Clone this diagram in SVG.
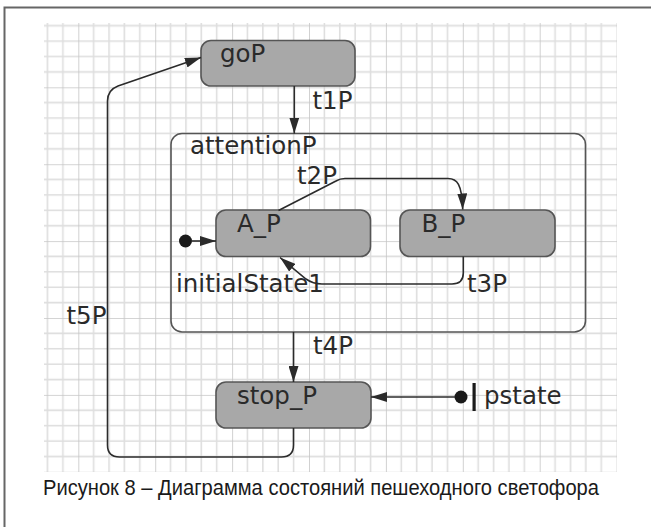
<svg xmlns="http://www.w3.org/2000/svg" width="651" height="527" viewBox="0 0 651 527">
  <defs>
    <!-- drawing-area grid: fine cells with a heavier line every fifth cell -->
    <pattern id="grid" patternUnits="userSpaceOnUse" x="1.4" y="10.4" width="76.9" height="76.9">
      <path d="M15.38,0V76.9M30.76,0V76.9M46.14,0V76.9M61.52,0V76.9M0,15.38H76.9M0,30.76H76.9M0,46.14H76.9M0,61.52H76.9" stroke="#dedede" stroke-width="1.6" fill="none"/>
      <path d="M0,0V76.9M0,0H76.9" stroke="#c6c6c6" stroke-width="1.6" fill="none"/>
    </pattern>
    <marker id="arrow" viewBox="0 0 16 10" refX="16" refY="5" markerWidth="16" markerHeight="10" markerUnits="userSpaceOnUse" orient="auto">
      <path d="M0,0 L16,5 L0,10 Z" fill="#2b2b2b"/>
    </marker>
  </defs>
  <style>
    .state { fill: #a8a8a8; stroke: #555; stroke-width: 1.6; }
    .region { fill: none; stroke: #555; stroke-width: 1.6; }
    .lbl { font-family: "DejaVu Sans", "Liberation Sans", sans-serif; font-size: 24.5px; fill: #2a2a2a; }
    .edge { fill: none; stroke: #2b2b2b; stroke-width: 1.6; marker-end: url(#arrow); }
    .cap { font-family: "Liberation Sans", "DejaVu Sans", sans-serif; font-size: 22px; fill: #1a1a1a; }
  </style>

  <rect width="651" height="527" fill="#fff"/>
  <!-- page frame -->
  <path d="M4.5,527V7.5H651" fill="none" stroke="#666" stroke-width="2"/>

  <!-- grid -->
  <rect x="44" y="23" width="573" height="449" fill="url(#grid)"/>

  <!-- composite state -->
  <g id="attentionP">
    <rect class="region" x="171" y="133.5" width="414.5" height="198.5" rx="11"/>
    <text class="lbl" x="190" y="153.5">attentionP</text>
  </g>

  <g id="goP">
    <rect class="state" x="201" y="40.5" width="154" height="45.5" rx="10"/>
    <text class="lbl" x="220" y="62">goP</text>
  </g>

  <g id="A_P">
    <rect class="state" x="216" y="210" width="154.5" height="46.5" rx="10"/>
    <text class="lbl" x="237" y="231.5">A_P</text>
  </g>

  <g id="B_P">
    <rect class="state" x="400" y="210" width="155" height="46.5" rx="10"/>
    <text class="lbl" x="421.5" y="231.5">B_P</text>
  </g>

  <g id="stop_P">
    <rect class="state" x="216" y="382" width="155" height="46" rx="10"/>
    <text class="lbl" x="237" y="403.5">stop_P</text>
  </g>

  <g id="initialState1">
    <circle cx="185.5" cy="241" r="6.5" fill="#1a1a1a"/>
    <text class="lbl" x="176" y="291.5">initialState1</text>
  </g>

  <g id="pstate">
    <circle cx="461" cy="397" r="6.5" fill="#1a1a1a"/>
    <rect x="472.5" y="383" width="3.2" height="28" fill="#1a1a1a"/>
    <text class="lbl" x="484" y="403.5">pstate</text>
  </g>

  <!-- transitions -->
  <g id="connectors">
    <path class="edge" d="M294.3,86V133.5"/>
    <path class="edge" d="M191.5,241H216"/>
    <path class="edge" d="M278.5,210.5L336,181Q340,178.5 345,178.5H448C457,178.5 462,184 462.7,209.5"/>
    <path class="edge" d="M463.3,256.5V273Q463.3,284 452,284H322Q313,284 306,279L280,257.5"/>
    <path class="edge" d="M293.5,332V382"/>
    <path class="edge" d="M455,397H371"/>
    <path class="edge" d="M293.5,428V445Q293.5,457 281.5,457H119.5Q107.5,457 107.5,445V101Q107.5,90 118,86L201,57.5"/>
    <text class="lbl" x="312.5" y="108.5">t1P</text>
    <text class="lbl" x="297" y="183.5">t2P</text>
    <text class="lbl" x="467" y="291.5">t3P</text>
    <text class="lbl" x="313" y="353.5">t4P</text>
    <text class="lbl" x="66.5" y="323.5">t5P</text>
  </g>

  <text class="cap" x="43" y="495" textLength="556" lengthAdjust="spacingAndGlyphs">Рисунок 8 – Диаграмма состояний пешеходного светофора</text>
</svg>
